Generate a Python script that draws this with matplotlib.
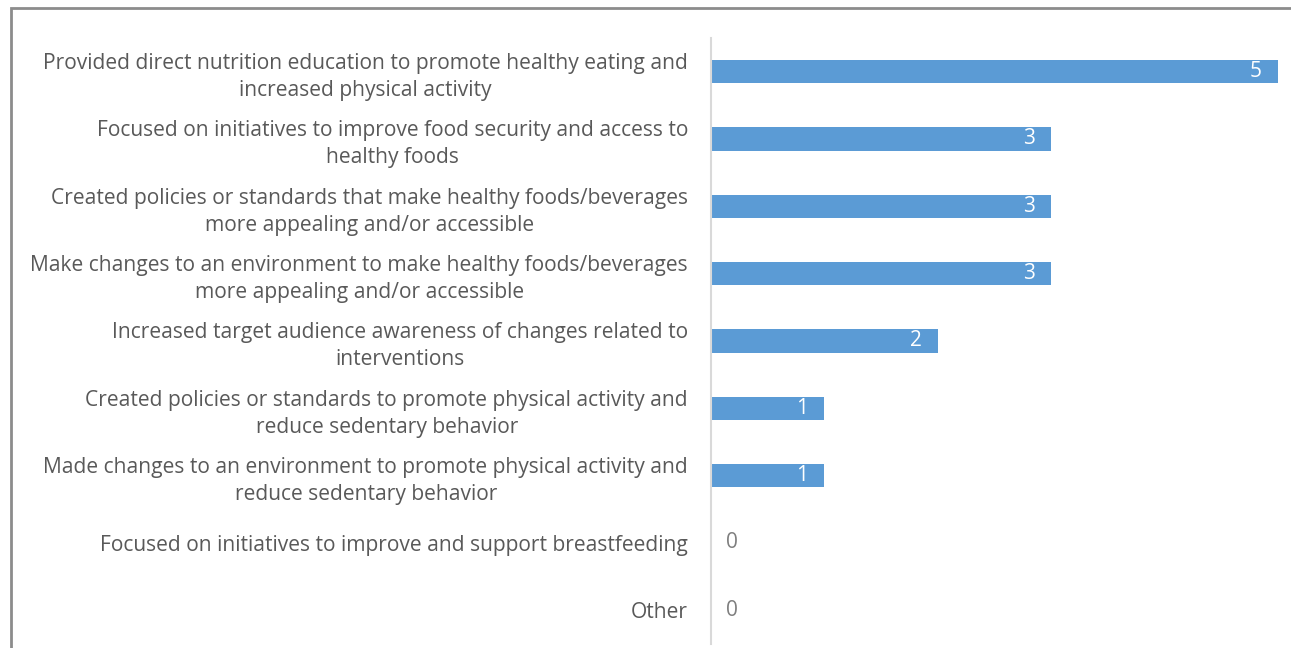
import matplotlib
matplotlib.use("Agg")
import matplotlib.pyplot as plt
from matplotlib.patches import Rectangle

categories = [
    "Provided direct nutrition education to promote healthy eating and\nincreased physical activity",
    "Focused on initiatives to improve food security and access to\nhealthy foods",
    "Created policies or standards that make healthy foods/beverages\nmore appealing and/or accessible",
    "Make changes to an environment to make healthy foods/beverages\nmore appealing and/or accessible",
    "Increased target audience awareness of changes related to\ninterventions",
    "Created policies or standards to promote physical activity and\nreduce sedentary behavior",
    "Made changes to an environment to promote physical activity and\nreduce sedentary behavior",
    "Focused on initiatives to improve and support breastfeeding",
    "Other",
]
counts = [5, 3, 3, 3, 2, 1, 1, 0, 0]

W, H = 1291, 648
fig = plt.figure(figsize=(W / 100, H / 100), dpi=100)
plt.rcParams['font.family'] = ['Open Sans', 'DejaVu Sans']

# outer chart frame (left and top edges visible)
fig.patches.append(Rectangle((10.5 / W, -0.1), 1.2, (H - 7.5) / H + 0.1,
                             transform=fig.transFigure, fill=False,
                             edgecolor="#8c8c8c", linewidth=2.0))

ax = fig.add_axes([711 / W, 1 - 644 / H, (1278 - 711) / W, (644 - 38) / H])
y = list(range(len(categories)))
bar_color = "#5b9bd5"
ax.barh(y, counts, height=0.345, color=bar_color)
ax.set_xlim(0, 5)
ax.set_ylim(len(categories) - 0.5, -0.5)

for yi, v in zip(y, counts):
    if v > 0:
        ax.text(v - 0.195, yi, str(v), ha="center", va="center",
                color="white", fontsize=15)
    else:
        ax.text(0.185, yi, str(v), ha="center", va="center",
                color="#7f7f7f", fontsize=15)

ax.set_yticks(y)
ax.set_yticklabels(categories, fontsize=15.1, color="#595959",
                   linespacing=1.36, multialignment="center")
ax.tick_params(axis="y", length=0, pad=16.5)
ax.set_xticks([])
for s in ["top", "right", "bottom"]:
    ax.spines[s].set_visible(False)
ax.spines["left"].set_color("#d9d9d9")
ax.spines["left"].set_linewidth(1.5)

fig.savefig("out.png", dpi=100, facecolor="white")
